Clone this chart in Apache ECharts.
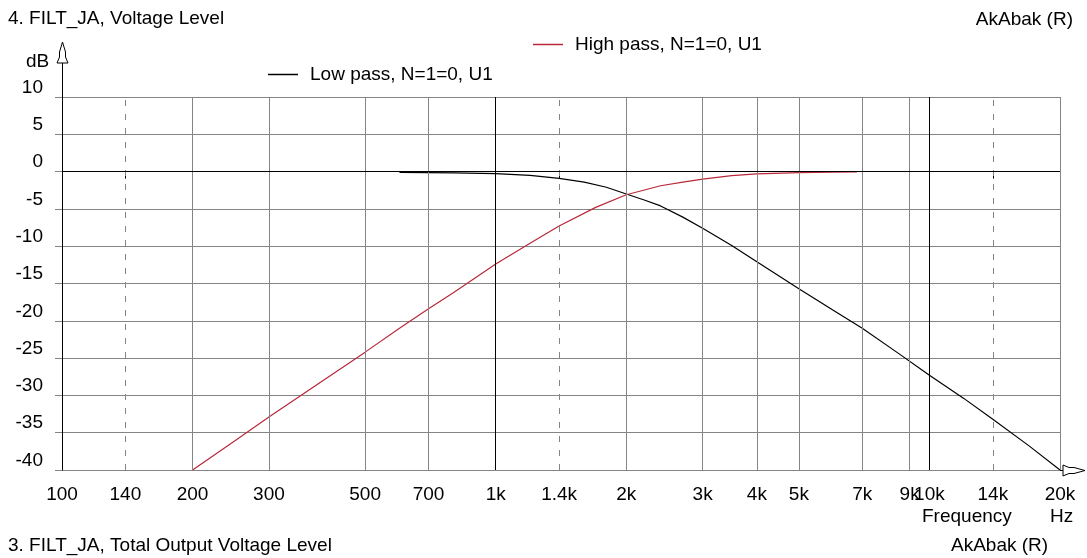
<!DOCTYPE html>
<html>
<head>
<meta charset="utf-8">
<title>FILT_JA, Voltage Level</title>
<script src="https://cdn.jsdelivr.net/npm/echarts@6/dist/echarts.min.js"></script>
<style>
  html, body { margin: 0; padding: 0; background: #fff; }
  #chart { width: 1087px; height: 558px; }
</style>
</head>
<body>
<div id="chart"></div>
<script>
// tick labels on the frequency axis (Hz)
var freqTicks = [100, 140, 200, 300, 500, 700, 1000, 1400, 2000, 3000, 4000, 5000, 7000, 9000, 10000, 14000, 20000]
// solid / dashed / dark vertical grid lines
var solidGrid = [200, 300, 500, 700, 2000, 3000, 4000, 5000, 7000, 9000, 20000]
var dashedGrid = [140, 1400, 14000]
var darkGrid = [1000, 10000]

// low pass curve (black)
var lowFreq = [600, 700, 800, 1000, 1200, 1400, 1600, 1800, 2000, 2200, 2400, 2700, 3000, 3500, 4000, 5000, 6000, 7000, 8500, 10000, 12000, 14000, 17000, 20000]
var lowDb = [-0.1, -0.13, -0.17, -0.26, -0.5, -0.9, -1.4, -2.1, -3.0, -3.8, -4.6, -6.1, -7.6, -9.9, -12.1, -15.7, -18.6, -21.0, -24.4, -27.3, -30.4, -33.2, -36.8, -40.0]

// high pass curve (red)
var highFreq = [200, 250, 300, 400, 500, 600, 700, 800, 1000, 1200, 1400, 1700, 2000, 2400, 2700, 3000, 3500, 4000, 5000, 6000, 6800]
var highDb = [-40, -36.1, -32.9, -28.0, -24.2, -21.0, -18.4, -16.2, -12.4, -9.6, -7.3, -4.8, -3.1, -1.9, -1.4, -1.0, -0.55, -0.3, -0.15, -0.08, -0.05]

var FONT = "'Liberation Sans', Arial, sans-serif"

function pairs (xs, ys) {
  return xs.map(function (x, i) { return [x, ys[i]] })
}

function fmtFreq (v) {
  var f = Math.round(v)
  return f >= 1000 ? (f / 1000) + 'k' : String(f)
}

// vertical grid lines as markLines
var gridLines = []
solidGrid.forEach(function (f) {
  gridLines.push({ xAxis: f, lineStyle: { color: '#858585', type: 'solid', width: 1 } })
})
dashedGrid.forEach(function (f) {
  gridLines.push({ xAxis: f, lineStyle: { color: '#858585', type: [6, 8], width: 1 } })
})
darkGrid.forEach(function (f) {
  gridLines.push({ xAxis: f, lineStyle: { color: '#000', type: 'solid', width: 1 } })
})
gridLines.push({ yAxis: 0, lineStyle: { color: '#000', type: 'solid', width: 1 } })

var myChart = echarts.init(document.getElementById('chart'))
myChart.setOption({
  animation: false,
  backgroundColor: '#fff',
  textStyle: { fontFamily: FONT },
  grid: { left: 62, right: 27, top: 97, bottom: 88 },
  legend: [
    {
      data: ['High pass, N=1=0, U1'],
      left: 533, top: 35, padding: 0,
      icon: 'rect', itemWidth: 30, itemHeight: 1.5,
      textStyle: { fontFamily: FONT, fontSize: 19, color: '#000', padding: [0, 0, 0, 7] }
    },
    {
      data: ['Low pass, N=1=0, U1'],
      left: 268, top: 65, padding: 0,
      icon: 'rect', itemWidth: 30, itemHeight: 1.5,
      textStyle: { fontFamily: FONT, fontSize: 19, color: '#000', padding: [0, 0, 0, 7] }
    }
  ],
  xAxis: {
    type: 'log',
    logBase: 10,
    min: 100,
    max: 20000,
    axisLine: { lineStyle: { color: '#000', width: 1 } },
    axisTick: { show: true, length: 7, customValues: freqTicks, lineStyle: { color: '#000' } },
    minorTick: { show: false },
    splitLine: { show: false },
    axisLabel: {
      customValues: freqTicks,
      formatter: fmtFreq,
      margin: 15,
      fontSize: 19,
      color: '#000',
      fontFamily: FONT
    }
  },
  yAxis: {
    type: 'value',
    min: -40,
    max: 10,
    interval: 5,
    axisLine: { show: true, lineStyle: { color: '#000', width: 1 } },
    axisTick: { show: true, length: 7, lineStyle: { color: '#858585' } },
    splitLine: { show: true, lineStyle: { color: '#858585', width: 1 } },
    axisLabel: {
      margin: 19,
      fontSize: 19,
      color: '#000',
      fontFamily: FONT,
      verticalAlign: 'bottom',
      lineHeight: 19
    }
  },
  series: [
    {
      name: 'grid',
      type: 'line',
      data: [],
      z: 1,
      silent: true,
      markLine: {
        silent: true,
        symbol: ['none', 'none'],
        label: { show: false },
        data: gridLines
      }
    },
    {
      name: 'Low pass, N=1=0, U1',
      type: 'line',
      z: 3,
      data: pairs(lowFreq, lowDb),
      showSymbol: false,
      color: '#000',
      lineStyle: { color: '#000', width: 1.2 }
    },
    {
      name: 'High pass, N=1=0, U1',
      type: 'line',
      z: 3,
      data: pairs(highFreq, highDb),
      showSymbol: false,
      color: '#b82838',
      lineStyle: { color: '#b82838', width: 1.2 }
    }
  ],
  graphic: [
    { type: 'text', left: 8, top: 9, style: { text: '4. FILT_JA, Voltage Level', font: '19px ' + FONT, fill: '#000' } },
    { type: 'text', right: 14, top: 10, style: { text: 'AkAbak (R)', font: '19px ' + FONT, fill: '#000' } },
    { type: 'text', left: 26, top: 52, style: { text: 'dB', font: '19px ' + FONT, fill: '#000' } },
    { type: 'text', left: 922, top: 507, style: { text: 'Frequency', font: '19px ' + FONT, fill: '#000' } },
    { type: 'text', left: 1050, top: 507, style: { text: 'Hz', font: '19px ' + FONT, fill: '#000' } },
    { type: 'text', left: 8, top: 536, style: { text: '3. FILT_JA, Total Output Voltage Level', font: '19px ' + FONT, fill: '#000' } },
    { type: 'text', left: 951, top: 536, style: { text: 'AkAbak (R)', font: '19px ' + FONT, fill: '#000' } },
    // axis extensions with hollow arrow heads
    { type: 'line', shape: { x1: 62.5, y1: 97, x2: 62.5, y2: 56 }, style: { stroke: '#000', lineWidth: 1 } },
    { type: 'polygon', shape: { points: [[62.5, 42], [65.5, 52], [65.5, 57], [68, 63], [57, 63], [59.5, 57], [59.5, 52]] }, style: { fill: '#fff', stroke: '#000', lineWidth: 1 } },
    { type: 'line', shape: { x1: 1060, y1: 470.5, x2: 1063, y2: 470.5 }, style: { stroke: '#000', lineWidth: 1 } },
    { type: 'polygon', shape: { points: [[1085, 470.5], [1074, 467.5], [1069, 467.5], [1063, 465], [1063, 476], [1069, 473.5], [1074, 473.5]] }, style: { fill: '#fff', stroke: '#000', lineWidth: 1 } }
  ]
})
</script>
</body>
</html>
